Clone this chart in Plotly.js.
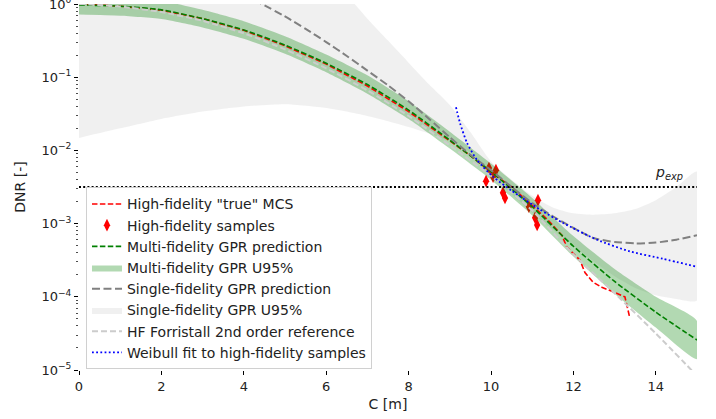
<!DOCTYPE html>
<html>
<head>
<meta charset="utf-8">
<script src="https://cdn.plot.ly/plotly-3.0.1.min.js"></script>
<style>
  html, body { margin: 0; padding: 0; background: #fff; }
  #chart { width: 716px; height: 419px; }
</style>
</head>
<body>
<div id="chart"></div>
<script>
// Wave crest height C [m] grid used by the GPR predictions
const C_GRID = [0, 1, 2, 3, 4, 5, 6, 7, 8, 9, 10, 11, 12, 13, 14, 15];

// Multi-fidelity GPR prediction and its 95% band
const MF_PRED  = [0.970, 0.933, 0.832, 0.631, 0.442, 0.275, 0.155, 0.0794, 0.0355, 0.0138, 5.13e-3, 1.70e-3, 4.90e-4, 1.62e-4, 6.17e-5, 2.57e-5];
const MF_UPPER = [1.309, 1.259, 1.109, 0.832, 0.582, 0.363, 0.204, 0.106, 0.0468, 0.0180, 6.61e-3, 2.24e-3, 6.76e-4, 2.40e-4, 1.00e-4, 4.68e-5];
const MF_LOWER = [0.719, 0.692, 0.624, 0.479, 0.335, 0.209, 0.117, 0.0596, 0.0269, 0.0106, 3.98e-3, 1.29e-3, 3.55e-4, 1.10e-4, 3.80e-5, 1.41e-5];

// High-fidelity Monte Carlo exceedance curve
const MCS_C   = [0, 1, 2, 3, 4, 5, 6, 7, 8, 9, 9.5, 10, 10.5, 11, 11.38, 11.72, 11.84, 12.16, 12.28, 12.48, 12.69, 12.96, 13.25, 13.37];
const MCS_DNR = [1.0, 0.933, 0.822, 0.631, 0.437, 0.269, 0.151, 0.0759, 0.0339, 0.0135, 8.51e-3, 5.01e-3, 3.16e-3, 1.78e-3, 1.12e-3, 6.92e-4, 4.79e-4, 3.16e-4, 2.14e-4, 1.58e-4, 1.35e-4, 1.17e-4, 1.00e-4, 5.13e-5];

// High-fidelity samples
const SAMPLE_C   = [9.95, 10.12, 10.05, 9.88, 10.29, 10.34, 10.92, 11.07, 11.12, 11.14];
const SAMPLE_DNR = [5.75e-3, 5.37e-3, 4.37e-3, 3.80e-3, 2.63e-3, 2.24e-3, 1.70e-3, 1.20e-3, 9.55e-4, 2.09e-3];

// Single-fidelity GPR prediction
const SF_C    = [4, 5, 5.5, 6, 6.5, 7, 7.5, 8, 8.5, 9, 9.5, 10, 10.5, 11, 11.5, 12, 12.5, 13, 13.5, 14, 14.5, 15];
const SF_PRED = [1.35, 0.676, 0.457, 0.302, 0.195, 0.123, 0.0776, 0.0468, 0.0269, 0.0151, 8.71e-3, 5.37e-3, 3.16e-3, 1.91e-3, 1.26e-3, 8.71e-4, 6.31e-4, 5.62e-4, 5.37e-4, 5.50e-4, 6.03e-4, 6.92e-4];

// Single-fidelity GPR 95% band
const SF_BAND_C = [0, 1, 2, 3, 4, 5, 6, 6.5, 7, 7.5, 8, 8.5, 9, 9.5, 10, 10.5, 11, 11.5, 12, 12.5, 13, 13.5, 14, 14.5, 15];
const SF_UPPER  = [10, 10, 10, 10, 10, 6.31, 2.51, 1.32, 0.631, 0.316, 0.158, 0.0794, 0.0417, 0.0178, 7.08e-3, 3.98e-3, 2.40e-3, 1.66e-3, 1.38e-3, 1.32e-3, 1.38e-3, 1.58e-3, 2.09e-3, 3.16e-3, 5.13e-3];
const SF_LOWER  = [0.0148, 0.0200, 0.0269, 0.0339, 0.0398, 0.0427, 0.0380, 0.0339, 0.0295, 0.0251, 0.0209, 0.0170, 0.0132, 9.33e-3, 4.47e-3, 2.51e-3, 1.41e-3, 8.32e-4, 5.01e-4, 3.02e-4, 1.91e-4, 1.32e-4, 1.05e-4, 9.33e-5, 8.91e-5];

// Forristall 2nd order reference
const HF_REF = [1.0, 0.923, 0.776, 0.589, 0.398, 0.240, 0.132, 0.0661, 0.0295, 0.0117, 4.47e-3, 1.51e-3, 3.80e-4, 1.12e-4, 3.16e-5, 8.32e-6];

// Weibull fit to the high-fidelity samples
const WEIBULL_C   = [9.15, 9.25, 9.42, 9.66, 10.05, 10.5, 11.19, 11.75, 12.57, 13.37, 14.17, 15];
const WEIBULL_DNR = [0.0389, 0.0234, 0.0126, 7.41e-3, 4.37e-3, 2.82e-3, 1.55e-3, 1.02e-3, 6.03e-4, 4.17e-4, 3.31e-4, 2.57e-4];

// Target exceedance probability
const P_EXP = 3.16e-3;
const C_RANGE = [0, 15];

const Y_TICKS = [1e-5, 1e-4, 1e-3, 1e-2, 1e-1, 1];
const Y_TICK_TEXT = ['10<sup>\u22125</sup>', '10<sup>\u22124</sup>', '10<sup>\u22123</sup>', '10<sup>\u22122</sup>', '10<sup>\u22121</sup>', '10<sup>0</sup>'];

function band(xs, upper, lower) {
  return {
    x: xs.concat(xs.slice().reverse()),
    y: upper.concat(lower.slice().reverse())
  };
}

const mfBand = band(C_GRID, MF_UPPER, MF_LOWER);
const sfBand = band(SF_BAND_C, SF_UPPER, SF_LOWER);
const DASH = '5.5px,2.4px';

// Layering: grey band and samples at the bottom, green band over them, curves on top
const traces = [
  {
    x: sfBand.x, y: sfBand.y, type: 'scatter', mode: 'lines', fill: 'toself',
    fillcolor: 'rgba(128,128,128,0.12)', line: {width: 0, shape: 'spline', smoothing: 0.6},
    name: 'Single-fidelity GPR U95%', legendrank: 6, hoverinfo: 'skip', zorder: 0
  },
  {
    x: SAMPLE_C, y: SAMPLE_DNR, type: 'scatter', mode: 'markers',
    marker: {symbol: 'diamond-tall', size: 9, color: 'red', line: {width: 0}},
    name: 'High-fidelity samples', legendrank: 2, zorder: 1
  },
  {
    x: mfBand.x, y: mfBand.y, type: 'scatter', mode: 'lines', fill: 'toself',
    fillcolor: 'rgba(0,128,0,0.3)', line: {width: 0, shape: 'spline', smoothing: 0.6},
    name: 'Multi-fidelity GPR U95%', legendrank: 4, hoverinfo: 'skip', zorder: 2
  },
  {
    x: MCS_C, y: MCS_DNR, type: 'scatter', mode: 'lines',
    line: {color: 'red', width: 1.6, dash: DASH},
    name: 'High-fidelity "true" MCS', legendrank: 1, zorder: 3
  },
  {
    x: C_GRID, y: MF_PRED, type: 'scatter', mode: 'lines',
    line: {color: 'green', width: 1.6, dash: DASH, shape: 'spline', smoothing: 0.6},
    name: 'Multi-fidelity GPR prediction', legendrank: 3, zorder: 3
  },
  {
    x: SF_C, y: SF_PRED, type: 'scatter', mode: 'lines',
    line: {color: 'gray', width: 2, dash: '8px,3.5px', shape: 'spline', smoothing: 0.6},
    name: 'Single-fidelity GPR prediction', legendrank: 5, zorder: 3
  },
  {
    x: C_GRID, y: HF_REF, type: 'scatter', mode: 'lines',
    line: {color: '#cccccc', width: 2, dash: '6px,3px', shape: 'spline', smoothing: 0.6},
    name: 'HF Forristall 2nd order reference', legendrank: 7, zorder: 3
  },
  {
    x: WEIBULL_C, y: WEIBULL_DNR, type: 'scatter', mode: 'lines',
    line: {color: 'blue', width: 1.8, dash: '1.8px,2.4px', shape: 'spline', smoothing: 0.6},
    name: 'Weibull fit to high-fidelity samples', legendrank: 8, zorder: 3
  },
  {
    x: C_RANGE, y: [P_EXP, P_EXP], type: 'scatter', mode: 'lines',
    line: {color: 'black', width: 2, dash: '2px,2.2px'},
    showlegend: false, hoverinfo: 'skip', zorder: 3
  }
];

const FONT = {family: 'DejaVu Sans, sans-serif', size: 13, color: '#222'};
const LEGEND_FONT = {family: 'DejaVu Sans, sans-serif', size: 14, color: '#222'};

const layout = {
  width: 716, height: 419,
  margin: {l: 79, r: 19, t: 4, b: 49},
  paper_bgcolor: '#fff', plot_bgcolor: '#fff',
  font: FONT,
  showlegend: true,
  legend: {
    x: 0.0113, y: 0.499, xanchor: 'left', yanchor: 'top',
    bgcolor: 'rgba(255,255,255,0.85)', bordercolor: '#d0d0d0', borderwidth: 1,
    font: LEGEND_FONT, itemwidth: 30, traceorder: 'normal'
  },
  xaxis: {
    range: C_RANGE, tickvals: [0, 2, 4, 6, 8, 10, 12, 14],
    ticks: 'outside', ticklen: 4, tickwidth: 1, tickcolor: '#000',
    showline: true, linecolor: '#000', linewidth: 1, mirror: true,
    showgrid: false, zeroline: false,
    title: {text: 'C [m]', font: {family: FONT.family, size: 14, color: '#222'}, standoff: 6}
  },
  yaxis: {
    type: 'log', range: [-5, 0],
    tickmode: 'array', tickvals: Y_TICKS, ticktext: Y_TICK_TEXT,
    ticklabeloverflow: 'allow',
    ticks: 'outside', ticklen: 4, tickwidth: 1, tickcolor: '#000',
    minor: {ticks: 'outside', ticklen: 2, tickwidth: 0.7, tickcolor: '#000', dtick: 'D1', showgrid: false},
    showline: true, linecolor: '#000', linewidth: 1, mirror: true,
    showgrid: false, zeroline: false,
    title: {text: 'DNR [-]', font: {family: FONT.family, size: 14, color: '#222'}, standoff: 12}
  },
  annotations: [{
    x: 14.32, y: Math.log10(P_EXP), xref: 'x', yref: 'y',
    text: '<i>p</i><sub><i>exp</i></sub>', showarrow: false,
    xanchor: 'center', yanchor: 'bottom', yshift: 3,
    font: {family: 'DejaVu Sans, sans-serif', size: 14, color: '#222'}
  }]
};

Plotly.newPlot('chart', traces, layout, {displayModeBar: false, staticPlot: true});
</script>
</body>
</html>
